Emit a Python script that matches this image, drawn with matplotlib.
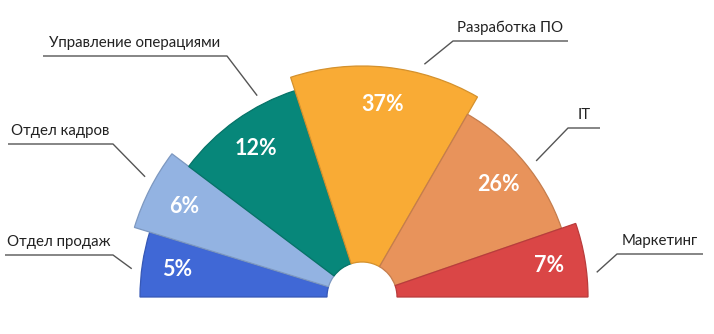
import numpy as np
import matplotlib
matplotlib.use('Agg')
import matplotlib.pyplot as plt
import matplotlib.colors as mcolors
from matplotlib.patches import Wedge

plt.rcParams['font.family'] = ['Lato', 'DejaVu Sans']

categories = ['Отдел продаж', 'Отдел кадров', 'Управление операциями',
              'Разработка ПО', 'IT', 'Маркетинг']
shares = [5, 6, 12, 37, 26, 7]
# angular width (deg) and outer radius (px) of each sector
spans = [17, 20, 35, 48, 41, 19]
radii = [222, 238, 217, 231, 211, 226]
colors = ['#4068D6', '#93B3E2', '#07877A', '#F9AB35', '#E8935B', '#DA4646']

W, H = 714, 334
cx, cy = 362, H - 297
hole = 35

# leader lines: angle where it touches the sector, elbow and far end (pixel coords)
pointer_angles = [173, 151, 117.5, 75, 38, 6]
elbows = [(113, 255), (113, 144), (227, 56), (453, 41), (568, 128), (617, 254)]
ends = [(5, 255), (8, 144), (43, 56), (568, 41), (600, 128), (703, 254)]

fig = plt.figure(figsize=(W / 100, H / 100), dpi=100)
ax = fig.add_axes([0, 0, 1, 1])
ax.set_xlim(0, W)
ax.set_ylim(0, H)
ax.axis('off')

start = 180
for name, val, span, r, col, pa, el, en in zip(categories, shares, spans, radii,
                                               colors, pointer_angles, elbows, ends):
    t2 = start
    t1 = start - span
    start = t1
    edge = np.array(mcolors.to_rgb(col)) * 0.85
    ax.add_patch(Wedge((cx, cy), r, t1, t2, width=r - hole,
                       facecolor=col, edgecolor=edge, linewidth=0.9))

    mid = np.deg2rad((t1 + t2) / 2)
    ax.text(cx + 0.84 * r * np.cos(mid), cy + 0.84 * r * np.sin(mid), f'{val}%',
            color='white', fontsize=15.5, fontweight='bold',
            ha='center', va='center')

    a = np.deg2rad(pa)
    px = cx + (r + 10) * np.cos(a)
    py = cy + (r + 10) * np.sin(a)
    ex, ey = el[0], H - el[1]
    fx, fy = en[0], H - en[1]
    ax.plot([px, ex, fx], [py, ey, fy], color='#555555', linewidth=1.0,
            solid_capstyle='butt')
    ax.text((ex + fx) / 2, ey + 9, name, color='#222222', fontsize=10.8,
            ha='center', va='baseline')

fig.savefig('out.png', dpi=100)
